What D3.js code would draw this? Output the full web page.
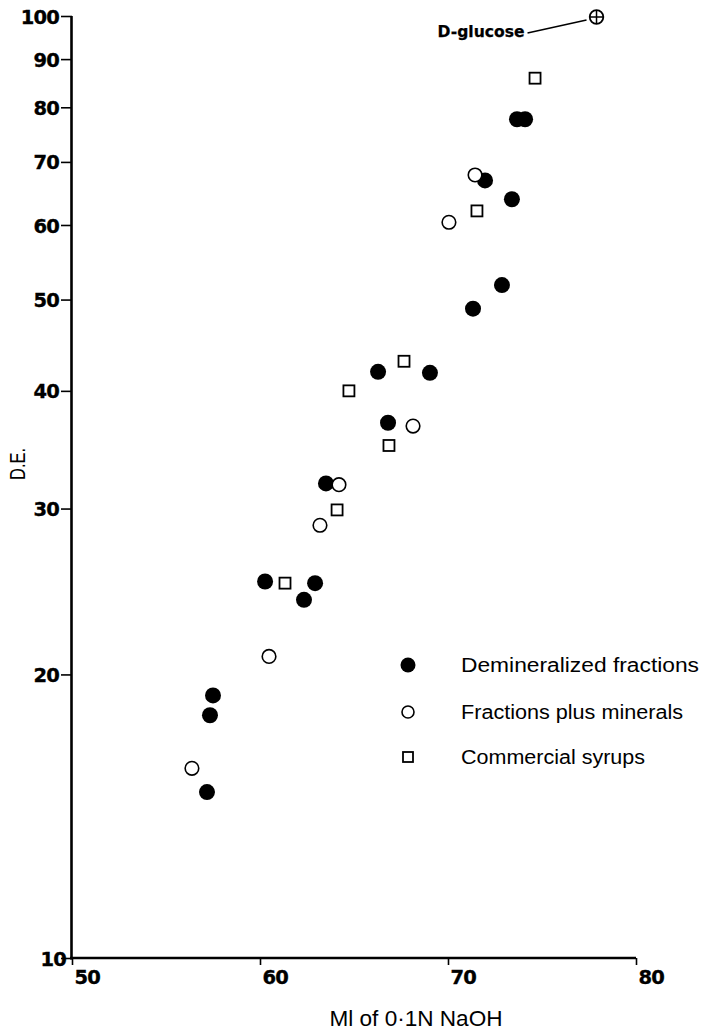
<!DOCTYPE html>
<html>
<head>
<meta charset="utf-8">
<script src="https://cdn.jsdelivr.net/npm/d3@7"></script>
<style>
html,body{margin:0;padding:0;background:#fff;}
svg{display:block;}
</style>
</head>
<body>
<svg id="chart" width="704" height="1033"></svg>
<script>
// ---- data ----
const xTicks = [50, 60, 70, 80];
const yTicks = [10, 20, 30, 40, 50, 60, 70, 80, 90, 100];

const demineralizedX = [57.18, 57.34, 57.50, 60.27, 62.34, 62.93, 63.51, 66.81, 66.28, 69.04, 71.33, 72.87, 73.40, 71.97, 73.67, 74.10];
const demineralizedY = [15.0, 18.1, 19.0, 25.1, 24.0, 25.0, 31.9, 37.0, 41.9, 41.8, 48.9, 51.8, 63.9, 66.9, 77.7, 77.7];

const mineralsX = [56.38, 60.48, 63.19, 64.20, 68.14, 70.05, 71.44];
const mineralsY = [15.9, 20.9, 28.8, 31.8, 36.7, 60.4, 67.8];

const syrupsX = [61.33, 64.10, 66.86, 64.73, 67.66, 71.54, 74.63];
const syrupsY = [25.0, 29.9, 35.0, 40.0, 43.0, 62.1, 85.9];

const glucoseX = [77.9];
const glucoseY = [100];

const legendLabels = ["Demineralized fractions", "Fractions plus minerals", "Commercial syrups"];

// ---- layout ----
const svg = d3.select("#chart");
const x = d3.scaleLinear().domain([50, 80]).range([72, 636]);
const y = d3.scaleLog().domain([10, 100]).range([958, 16]);

const zip = (a, b) => a.map((v, i) => [v, b[i]]);

// axes
const yAxis = d3.axisLeft(y).tickValues(yTicks).tickFormat(d3.format("d")).tickSize(11).tickPadding(2);
const gy = svg.append("g").attr("transform", `translate(${x(50)},0)`).call(yAxis);
gy.select(".domain").attr("stroke", "#000").attr("stroke-width", 2.6).attr("d", `M-0.5,${y(100)}V${y(10)+1.5}`);
gy.selectAll(".tick line").attr("stroke-width", 1.6);
gy.selectAll(".tick text")
  .attr("font-family", "DejaVu Sans, sans-serif").attr("font-weight", "bold").attr("font-size", 19.5)
  .attr("fill", "#000").attr("stroke", "#000").attr("stroke-width", 0.35).attr("dy", "0.36em")
  .attr("letter-spacing", -0.8);
gy.selectAll(".tick").filter(d => d === 10).select("text").attr("x", -6);

const xAxis = d3.axisBottom(x).tickValues(xTicks).tickFormat(d3.format("d")).tickSize(7).tickPadding(3);
const gx = svg.append("g").attr("transform", `translate(0,${y(10)})`).call(xAxis);
gx.select(".domain").attr("stroke", "#000").attr("stroke-width", 2.6).attr("d", `M${x(50)-2},0H${x(80)}`);
gx.selectAll(".tick line").attr("stroke-width", 1.6);
gx.selectAll(".tick text")
  .attr("font-family", "DejaVu Sans, sans-serif").attr("font-weight", "bold").attr("font-size", 19.5)
  .attr("fill", "#000").attr("stroke", "#000").attr("stroke-width", 0.35)
  .attr("text-anchor", "start").attr("x", 2).attr("dy", "0.8em")
  .attr("letter-spacing", -0.8);

// axis titles
svg.append("text")
  .attr("x", 416).attr("y", 1026)
  .attr("text-anchor", "middle")
  .attr("font-family", "Liberation Sans, Arial, sans-serif").attr("font-size", 22)
  .attr("textLength", 173).attr("lengthAdjust", "spacingAndGlyphs")
  .text("Ml of 0·1N NaOH");

svg.append("text")
  .attr("transform", `translate(25,464) rotate(-90)`)
  .attr("text-anchor", "middle")
  .attr("font-family", "Liberation Sans, Arial, sans-serif").attr("font-size", 22)
  .attr("textLength", 32).attr("lengthAdjust", "spacingAndGlyphs")
  .text("D.E.");

// points
const gPts = svg.append("g");
gPts.selectAll("circle.dem").data(zip(demineralizedX, demineralizedY)).join("circle")
  .attr("class", "dem").attr("cx", d => x(d[0])).attr("cy", d => y(d[1])).attr("r", 8).attr("fill", "#000");

gPts.selectAll("circle.min").data(zip(mineralsX, mineralsY)).join("circle")
  .attr("class", "min").attr("cx", d => x(d[0])).attr("cy", d => y(d[1])).attr("r", 6.8)
  .attr("fill", "#fff").attr("stroke", "#000").attr("stroke-width", 1.6);

const sq = 11;
gPts.selectAll("rect.syr").data(zip(syrupsX, syrupsY)).join("rect")
  .attr("class", "syr").attr("x", d => x(d[0]) - sq/2).attr("y", d => y(d[1]) - sq/2)
  .attr("width", sq).attr("height", sq)
  .attr("fill", "#fff").attr("stroke", "#000").attr("stroke-width", 1.8);

// D-glucose
const gl = svg.append("g");
zip(glucoseX, glucoseY).forEach(d => {
  const cx = x(d[0]), cy = y(d[1]) + 1;
  gl.append("circle").attr("cx", cx).attr("cy", cy).attr("r", 6.8).attr("fill", "#fff").attr("stroke", "#000").attr("stroke-width", 1.8);
  gl.append("path").attr("d", `M${cx-6.8},${cy}H${cx+6.8}M${cx},${cy-6.8}V${cy+6.8}`).attr("stroke", "#000").attr("stroke-width", 1.5);
  gl.append("line").attr("x1", cx - 10).attr("y1", cy + 3).attr("x2", cx - 69).attr("y2", cy + 16)
    .attr("stroke", "#000").attr("stroke-width", 1.5);
  gl.append("text").attr("x", cx - 72).attr("y", cy + 20).attr("text-anchor", "end")
    .attr("font-family", "DejaVu Sans, sans-serif").attr("font-weight", "bold").attr("font-size", 15.5)
    .attr("stroke", "#000").attr("stroke-width", 0.25)
    .attr("textLength", 87).attr("lengthAdjust", "spacingAndGlyphs")
    .text("D-glucose");
});

// legend
const legRows = [665, 712, 757];
const legLens = [238, 222, 184];
const lg = svg.append("g");
legendLabels.forEach((lab, i) => {
  const cy = legRows[i], cx = 408;
  if (i === 0) lg.append("circle").attr("cx", cx).attr("cy", cy).attr("r", 7.5).attr("fill", "#000");
  if (i === 1) lg.append("circle").attr("cx", cx).attr("cy", cy).attr("r", 6).attr("fill", "#fff").attr("stroke", "#000").attr("stroke-width", 1.6);
  if (i === 2) lg.append("rect").attr("x", cx - 5).attr("y", cy - 5).attr("width", 10).attr("height", 10).attr("fill", "#fff").attr("stroke", "#000").attr("stroke-width", 1.8);
  lg.append("text").attr("x", 461).attr("y", cy + 7)
    .attr("font-family", "Liberation Sans, Arial, sans-serif").attr("font-size", 20)
    .attr("textLength", legLens[i]).attr("lengthAdjust", "spacingAndGlyphs")
    .text(lab);
});
</script>
</body>
</html>
